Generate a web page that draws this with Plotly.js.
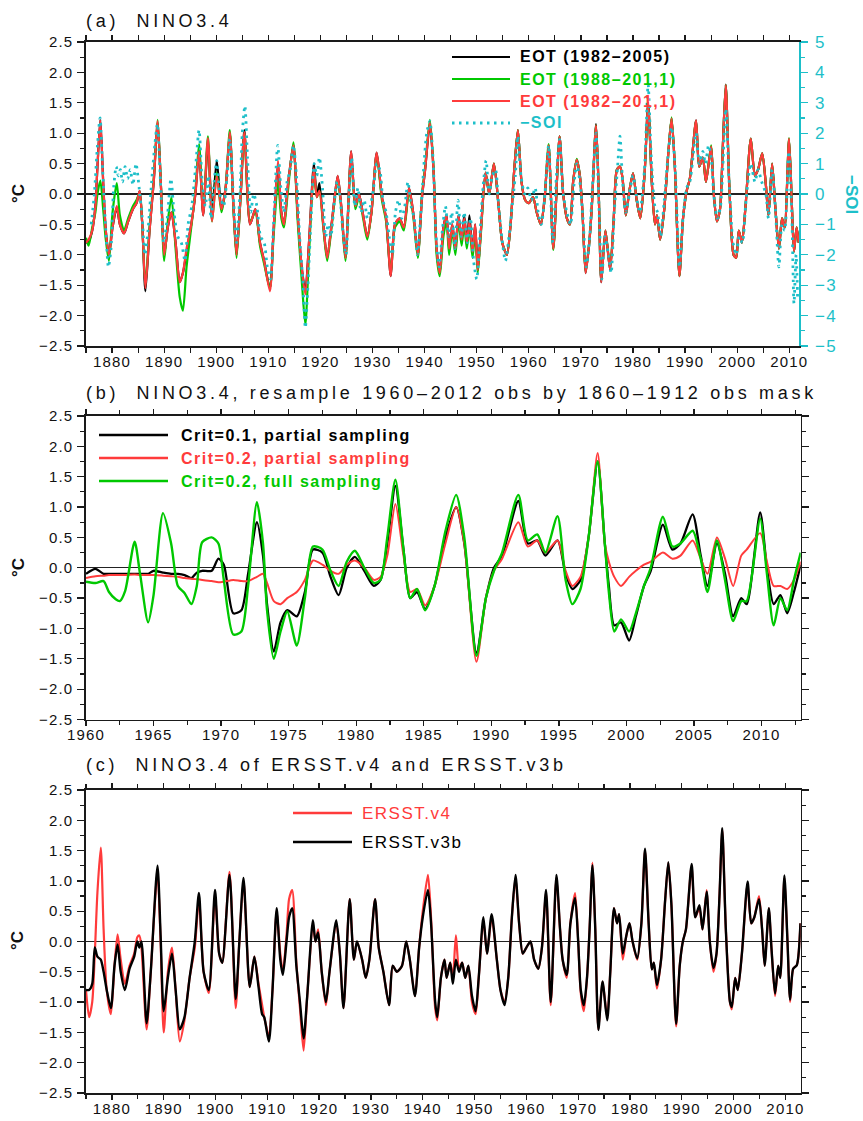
<!DOCTYPE html>
<html><head><meta charset="utf-8">
<script src="https://cdn.plot.ly/plotly-3.0.1.min.js"></script>
<style>
html,body{margin:0;padding:0;background:#fff;}
#chart{width:863px;height:1121px;}
.xtick text,.ytick text,.y2tick text,.x2tick text,.x3tick text,.y3tick text,.y4tick text{letter-spacing:1.2px;}
g.annotation[data-index="0"] text,g.annotation[data-index="1"] text,g.annotation[data-index="2"] text{letter-spacing:3.7px;}
g.annotation[data-index="5"] text,g.annotation[data-index="6"] text,g.annotation[data-index="7"] text,g.annotation[data-index="8"] text,
g.annotation[data-index="9"] text,g.annotation[data-index="10"] text,g.annotation[data-index="11"] text,
g.annotation[data-index="12"] text,g.annotation[data-index="13"] text{letter-spacing:1.5px;}
</style></head><body><div id="chart"></div>
<script>
// ---------------- Panel (a): EOT reconstructions of NINO3.4 and -SOI ----------------
const aYear = [
 1875.0,1875.5,1876.2,1876.8,1877.2,1877.75,1878.3,1878.8,1879.4,
 1880.1,1880.9,1881.5,1882.3,1883.1,1884.0,1884.7,1885.3,1885.8,1886.4,1887.2,1888.0,1888.75,1889.4,
 1890.0,1890.7,1891.4,1892.2,1893.0,1893.6,1894.3,1895.2,1896.0,1896.7,1897.5,1898.4,1899.2,
 1900.1,1901.0,1901.8,1902.6,1903.3,1903.9,1904.7,1905.4,1906.5,1907.5,1908.4,1909.2,
 1910.3,1911.0,1911.85,1912.5,1913.0,1913.7,1914.8,1915.6,1916.4,1917.1,1917.8,1918.75,1919.3,1919.8,
 1920.6,1921.3,1922.2,1923.3,1924.0,1924.8,1925.9,1926.7,1927.4,1928.2,1929.0,1929.8,
 1930.8,1931.8,1932.6,1933.5,1934.3,1935.2,1936.0,1937.0,1937.8,1938.7,1939.5,
 1940.1,1941.0,1941.7,1942.3,1942.9,1943.6,1944.2,1944.7,1945.3,1945.9,1946.5,1947.1,1947.6,1948.1,1948.6,1949.2,1949.7,
 1950.2,1950.8,1951.7,1952.4,1953.3,1954.2,1954.9,1955.8,1956.5,1957.2,1957.9,1958.6,1959.3,
 1960.0,1960.8,1961.5,1962.3,1963.0,1963.8,1964.7,1965.9,1966.6,1967.3,1967.9,1968.5,1969.2,1969.8,
 1970.3,1970.9,1971.6,1972.1,1972.9,1973.4,1973.9,1974.7,1975.6,1976.3,1976.9,1977.5,1978.0,1978.6,1979.3,
 1980.0,1980.7,1981.4,1982.2,1982.9,1983.6,1984.2,1984.6,1985.2,1986.0,1986.8,1987.4,1988.0,1988.9,1989.6,
 1990.3,1990.9,1992.1,1992.7,1993.4,1994.0,1995.0,1995.5,1996.1,1996.7,1997.2,1997.8,1998.5,1999.3,1999.8,
 2000.3,2000.9,2001.6,2002.6,2003.4,2004.0,2004.8,2005.5,2006.0,2006.7,2007.3,2008.0,2008.6,2009.1,2009.95,2010.5,2010.9,2011.4,2011.8
];
const aEOT8205 = [
 -0.80,-0.78,-0.60,-0.20,0.45,1.22,0.20,-0.60,-1.00,
 -0.55,-0.22,-0.50,-0.65,-0.45,-0.25,-0.15,0.05,-0.50,-1.60,-0.60,0.20,1.18,0.10,
 -1.00,-0.55,-0.30,-0.80,-1.45,-1.30,-0.95,-0.50,0.00,0.72,-0.35,0.85,-0.30,
 0.55,-0.25,0.10,1.00,-0.20,-1.00,0.00,1.05,-0.50,-0.25,-0.80,-1.10,
 -1.55,-0.60,0.50,-0.30,-0.50,0.10,0.80,-0.30,-1.20,-1.60,-0.80,0.50,-0.05,0.18,
 -0.55,-1.05,-0.45,0.30,-0.20,-1.05,0.70,-0.20,0.00,-0.35,-0.70,-0.30,
 0.68,-0.05,-0.40,-1.35,-0.50,-0.40,-0.55,0.10,-0.30,-1.00,-0.05,
 0.40,1.15,0.40,-0.90,-1.30,-0.55,-0.35,-0.90,-0.50,-0.90,-0.35,-0.75,-0.35,-0.80,-0.35,-0.95,-0.50,
 -1.25,-0.60,0.35,0.00,0.50,-0.20,-0.80,-1.00,-0.50,0.40,1.05,0.20,-0.10,
 -0.15,-0.05,-0.30,-0.50,-0.10,0.80,-0.90,0.95,0.00,-0.40,-0.50,0.20,0.56,0.30,
 -0.30,-1.30,-0.80,-0.20,1.15,0.10,-1.45,-0.60,-1.25,-0.40,0.40,0.45,0.25,-0.35,0.05,
 0.34,-0.10,-0.40,0.30,1.50,0.20,-0.50,-0.35,-0.75,-0.25,0.70,1.24,0.50,-1.35,-0.40,
 0.05,0.25,1.21,0.45,0.60,0.20,0.78,0.00,-0.45,-0.25,0.70,1.80,0.10,-1.00,-1.05,
 -0.60,-0.80,-0.20,0.91,0.30,0.40,0.67,0.15,-0.35,0.50,-0.20,-0.90,-0.40,-0.55,0.90,-0.20,-0.95,-0.55,-0.80
];
const aEOT8811 = [
 -0.72,-0.85,-0.55,-0.30,0.00,0.22,-0.25,-0.75,-1.10,
 -0.30,0.18,-0.35,-0.60,-0.40,-0.20,-0.10,0.02,-0.50,-1.50,-0.55,0.25,1.22,0.10,
 -1.10,-0.45,-0.05,-0.90,-1.70,-1.92,-1.20,-0.55,0.05,0.82,-0.30,0.95,-0.45,
 0.35,-0.30,0.10,1.05,-0.25,-1.05,0.00,1.00,-0.45,-0.30,-0.85,-1.15,
 -1.55,-0.70,0.20,-0.40,-0.55,0.00,0.85,-0.40,-1.40,-2.15,-1.00,0.40,-0.05,0.05,
 -0.60,-1.10,-0.50,0.25,-0.25,-1.10,0.65,-0.25,-0.05,-0.40,-0.75,-0.30,
 0.65,-0.10,-0.45,-1.30,-0.55,-0.45,-0.60,0.05,-0.35,-1.05,0.00,
 0.45,1.22,0.45,-1.00,-1.35,-0.70,-0.45,-1.00,-0.60,-1.00,-0.45,-0.85,-0.50,-0.90,-0.55,-1.05,-0.60,
 -1.30,-0.65,0.35,0.00,0.50,-0.20,-0.80,-1.00,-0.50,0.40,1.05,0.20,-0.10,
 -0.15,-0.05,-0.30,-0.50,-0.10,0.82,-0.92,0.95,0.00,-0.40,-0.50,0.20,0.58,0.30,
 -0.30,-1.28,-0.80,-0.20,1.13,0.10,-1.42,-0.60,-1.22,-0.40,0.40,0.45,0.25,-0.35,0.05,
 0.34,-0.10,-0.40,0.30,1.46,0.20,-0.50,-0.35,-0.75,-0.25,0.70,1.26,0.50,-1.35,-0.40,
 0.05,0.25,1.20,0.45,0.60,0.20,0.80,0.00,-0.45,-0.25,0.70,1.79,0.10,-1.00,-1.05,
 -0.60,-0.80,-0.20,0.91,0.30,0.40,0.67,0.15,-0.35,0.50,-0.20,-0.90,-0.40,-0.55,0.92,-0.20,-0.95,-0.55,-0.80
];
const aEOT8211 = [
 -0.80,-0.75,-0.60,-0.20,0.45,1.22,0.20,-0.60,-1.00,
 -0.55,-0.20,-0.50,-0.65,-0.45,-0.25,-0.15,0.05,-0.50,-1.55,-0.60,0.20,1.20,0.10,
 -1.00,-0.55,-0.30,-0.80,-1.45,-1.30,-0.90,-0.50,0.00,0.70,-0.35,0.92,-0.45,
 0.30,-0.25,0.10,1.02,-0.20,-1.00,0.00,1.02,-0.50,-0.25,-0.80,-1.10,
 -1.60,-0.60,0.55,-0.30,-0.50,0.10,0.80,-0.30,-1.20,-1.65,-0.80,0.42,-0.05,0.05,
 -0.55,-1.05,-0.45,0.30,-0.20,-1.05,0.70,-0.20,0.00,-0.35,-0.70,-0.30,
 0.68,-0.05,-0.40,-1.35,-0.50,-0.40,-0.55,0.10,-0.30,-1.00,-0.05,
 0.40,1.18,0.40,-0.90,-1.30,-0.55,-0.35,-0.90,-0.50,-0.90,-0.35,-0.75,-0.40,-0.80,-0.45,-0.95,-0.50,
 -1.25,-0.60,0.35,0.00,0.50,-0.20,-0.80,-1.00,-0.50,0.40,1.05,0.20,-0.10,
 -0.15,-0.05,-0.30,-0.50,-0.10,0.80,-0.90,0.95,0.00,-0.40,-0.50,0.20,0.56,0.30,
 -0.30,-1.30,-0.80,-0.20,1.13,0.10,-1.45,-0.60,-1.25,-0.40,0.40,0.45,0.25,-0.35,0.05,
 0.34,-0.10,-0.40,0.30,1.46,0.20,-0.50,-0.35,-0.75,-0.25,0.70,1.24,0.50,-1.35,-0.40,
 0.05,0.25,1.21,0.45,0.60,0.20,0.78,0.00,-0.45,-0.25,0.70,1.79,0.10,-1.00,-1.05,
 -0.60,-0.80,-0.20,0.91,0.30,0.40,0.67,0.15,-0.35,0.50,-0.20,-0.90,-0.40,-0.55,0.91,-0.20,-0.95,-0.55,-0.80
];
const soiYear = [
 1876.0,1876.6,1877.2,1877.7,1878.2,1878.8,1879.3,1879.8,
 1880.3,1880.8,1881.2,1881.6,1882.0,1882.5,1883.0,1883.5,1884.0,1884.6,1885.2,1885.8,1886.3,1886.9,1887.6,1888.2,1888.7,1889.3,1889.9,
 1890.6,1891.3,1891.9,1892.6,1893.3,1894.0,1894.6,1895.3,1896.0,1896.7,1897.3,1897.9,1898.5,1899.0,1899.6,
 1900.1,1900.7,1901.4,1902.1,1902.6,1903.2,1903.9,1904.6,1905.0,1905.5,1906.0,1906.6,1907.2,1907.8,1908.5,1909.2,1909.8,
 1910.4,1911.0,1911.8,1912.4,1913.0,1913.6,1914.2,1914.8,1915.4,1916.0,1916.6,1917.1,1917.6,1918.2,1918.8,1919.3,1919.8,
 1920.4,1921.0,1921.5,1922.0,1922.6,1923.2,1923.8,1924.4,1924.9,1925.5,1926.0,1926.6,1927.2,1927.8,1928.4,1929.0,1929.6,
 1930.2,1930.8,1931.4,1932.0,1932.6,1933.2,1933.8,1934.4,1935.0,1935.6,1936.2,1936.8,1937.4,1938.0,1938.6,1939.2,1939.8,
 1940.4,1941.0,1941.6,1942.2,1942.8,1943.4,1944.0,1944.6,1945.2,1945.8,1946.4,1947.0,1947.6,1948.2,1948.8,1949.4,
 1950.0,1950.6,1951.2,1951.8,1952.4,1953.0,1953.6,1954.2,1954.8,1955.5,1956.2,1956.8,1957.4,1957.9,1958.5,1959.2,1959.8,
 1960.5,1961.2,1961.8,1962.4,1963.0,1963.8,1964.6,1965.3,1965.9,1966.6,1967.3,1968.0,1968.6,1969.2,1969.8,
 1970.4,1971.0,1971.6,1972.2,1972.9,1973.5,1974.0,1974.6,1975.3,1975.8,1976.4,1977.0,1977.5,1978.0,1978.6,1979.3,
 1980.0,1980.6,1981.3,1982.2,1982.9,1983.5,1984.2,1984.7,1985.3,1986.0,1986.8,1987.4,1988.1,1988.9,1989.6,
 1990.3,1990.9,1992.1,1992.7,1993.4,1993.9,1994.5,1995.0,1995.6,1996.2,1996.8,1997.8,1998.5,1999.2,1999.8,
 2000.4,2001.0,2001.6,2002.6,2003.4,2004.0,2004.7,2005.5,2006.0,2006.7,2007.3,2008.0,2008.6,2009.1,2009.9,2010.5,2010.9,2011.3,2011.6
];
const negSOI = [
 -1.0,0.0,1.6,2.5,0.8,-1.2,-2.4,-1.8,
 0.2,0.9,0.6,0.8,0.4,0.9,0.5,0.8,0.3,1.0,0.2,-0.8,-2.0,-1.2,0.4,1.6,2.3,0.4,-1.6,
 -0.8,0.5,-0.6,-1.4,-1.6,-2.2,-1.0,-0.4,0.8,2.1,0.4,-0.4,0.6,-0.8,0.4,
 1.1,0.0,-0.4,0.6,1.8,0.2,-1.6,0.2,2.0,2.9,1.2,-0.6,0.0,-0.4,-1.4,-1.6,-2.4,
 -2.8,-1.0,1.6,0.2,-0.6,0.4,0.8,1.6,0.6,-1.4,-2.8,-4.4,-3.0,-0.8,1.0,0.6,1.2,
 0.2,-1.4,-1.0,-1.4,-0.4,0.4,-0.2,-1.4,-2.0,0.0,1.2,-0.4,0.2,-0.6,-0.2,-0.8,-0.4,
 0.2,1.0,0.8,-0.2,-0.6,-1.4,-2.0,-0.6,-0.2,-0.8,-0.4,0.4,-0.4,-0.8,-2.0,-0.8,0.8,
 2.0,2.4,1.2,-1.4,-2.4,-1.2,-0.4,-1.4,-0.6,-1.8,-0.2,-1.4,-0.6,-1.6,-0.8,-2.2,
 -2.8,-1.4,0.2,1.1,0.0,0.6,0.8,-0.4,-1.4,-2.2,-1.4,-0.4,0.6,1.9,0.6,0.0,0.2,
 -0.2,0.2,-0.6,-1.0,-0.2,1.6,-1.6,0.6,1.8,0.0,-0.6,-1.0,0.2,1.0,0.4,
 -0.8,-2.4,-1.6,0.2,2.0,-0.6,-2.8,-1.4,-2.0,-2.6,-0.6,0.8,1.9,0.4,-0.6,0.0,
 0.6,0.0,-0.6,0.8,3.6,1.2,-0.4,-0.6,-1.4,-0.2,1.4,2.2,0.8,-2.4,-0.8,
 0.2,0.4,2.0,1.0,1.4,1.0,1.6,1.2,-0.2,-0.8,-0.4,2.8,0.2,-1.6,-2.0,
 -1.4,-1.6,-0.4,1.0,0.4,0.8,0.4,0.0,-0.8,0.8,-0.4,-2.4,-1.0,-1.2,1.4,-0.8,-3.6,-2.0,-3.5
];

// ---------------- Panel (b): 1960-2012 resampled by 1860-1912 mask ----------------
const bYear = [
 1960.0,1960.7,1961.3,1961.7,1962.2,1962.5,1962.9,1963.6,1964.0,1964.6,1965.0,1965.7,1966.3,1966.8,1967.3,1967.8,1968.2,1968.6,1969.3,1969.8,
 1970.2,1970.9,1971.5,1972.0,1972.65,1973.1,1973.4,1973.9,1974.4,1974.9,1975.6,1976.2,1976.8,1977.5,1978.1,1978.7,1979.3,1979.9,
 1980.6,1981.3,1981.8,1982.3,1982.9,1983.5,1984.0,1984.5,1985.1,1985.8,1986.6,1987.4,1988.0,1988.9,1989.6,
 1990.2,1990.8,1992.0,1992.7,1993.4,1994.0,1994.9,1995.5,1996.0,1996.6,1997.2,1997.87,1998.4,1998.7,1999.1,1999.6,
 2000.2,2000.7,2001.3,2001.8,2002.7,2003.4,2004.0,2004.9,2005.5,2006.0,2006.7,2007.3,2007.9,2008.5,2008.9,2009.9,
 2010.4,2010.9,2011.4,2011.9,2012.4,2012.9
];
const bCrit01Partial = [
 -0.10,-0.02,-0.10,-0.10,-0.10,-0.10,-0.10,-0.10,-0.10,-0.10,-0.05,-0.08,-0.10,-0.10,-0.12,-0.17,-0.08,-0.05,-0.05,0.15,
 0.05,-0.75,-0.70,-0.10,0.75,0.20,-0.60,-1.38,-0.90,-0.70,-0.80,-0.40,0.30,0.25,-0.15,-0.45,0.00,0.18,
 -0.05,-0.30,-0.20,0.40,1.35,0.30,-0.50,-0.40,-0.68,-0.30,0.50,1.00,0.40,-1.40,-0.50,
 0.00,0.20,1.10,0.40,0.45,0.20,0.45,-0.10,-0.35,-0.20,0.50,1.75,0.40,-0.30,-0.95,-0.90,
 -1.20,-0.80,-0.30,-0.05,0.71,0.30,0.40,0.88,0.20,-0.30,0.40,-0.10,-0.80,-0.50,-0.60,0.91,
 0.00,-0.60,-0.45,-0.75,-0.40,0.05
];
const bCrit02Partial = [
 -0.17,-0.14,-0.13,-0.12,-0.12,-0.12,-0.12,-0.11,-0.12,-0.12,-0.12,-0.13,-0.14,-0.15,-0.17,-0.18,-0.19,-0.20,-0.22,-0.24,
 -0.23,-0.20,-0.22,-0.22,-0.15,-0.10,-0.25,-0.55,-0.60,-0.50,-0.40,-0.20,0.12,0.05,-0.05,-0.10,0.05,0.12,
 0.00,-0.20,-0.15,0.20,1.05,0.20,-0.40,-0.35,-0.62,-0.30,0.40,1.00,0.40,-1.55,-0.50,
 -0.05,0.15,0.75,0.35,0.45,0.25,0.45,-0.05,-0.30,-0.15,0.50,1.89,0.40,0.10,-0.15,-0.30,
 -0.15,-0.05,0.05,0.10,0.25,0.15,0.20,0.45,0.15,-0.10,0.50,0.15,-0.30,0.20,0.30,0.57,
 0.10,-0.30,-0.30,-0.35,-0.20,0.10
];
const bCrit02Full = [
 -0.23,-0.25,-0.22,-0.40,-0.52,-0.55,-0.38,0.43,-0.10,-0.90,-0.45,0.90,0.40,-0.30,-0.42,-0.60,-0.30,0.42,0.50,0.40,
 -0.20,-1.10,-1.05,-0.30,1.08,0.40,-0.70,-1.50,-1.05,-0.72,-1.28,-0.50,0.35,0.30,-0.05,-0.30,0.10,0.28,
 0.00,-0.25,-0.20,0.50,1.45,0.30,-0.50,-0.35,-0.70,-0.30,0.60,1.20,0.50,-1.45,-0.50,
 -0.05,0.25,1.20,0.45,0.55,0.25,0.85,-0.20,-0.60,-0.35,0.50,1.75,0.40,-0.40,-1.05,-0.85,
 -1.05,-0.75,-0.30,0.00,0.84,0.35,0.40,0.61,0.15,-0.40,0.45,-0.20,-0.88,-0.55,-0.55,0.81,
 -0.10,-0.95,-0.50,-0.70,-0.20,0.25
];

// ---------------- Panel (c): ERSST.v4 vs ERSST.v3b ----------------
const cYear = [
 1875.0,1875.6,1876.2,1876.7,1877.2,1877.85,1878.4,1879.0,1879.8,
 1880.5,1881.1,1881.7,1882.5,1883.4,1884.3,1884.9,1885.3,1885.7,1886.7,1887.5,1888.8,1889.4,
 1890.0,1890.8,1891.6,1892.3,1893.1,1894.0,1895.0,1896.0,1896.8,1897.7,1898.7,1899.9,
 1900.7,1901.3,1902.7,1903.9,1904.6,1905.4,1906.6,1907.5,1908.3,1909.0,1909.4,
 1910.3,1911.0,1911.8,1912.5,1913.0,1913.7,1914.2,1914.8,1915.6,1916.3,1917.0,1917.7,1918.8,1919.3,1919.8,
 1920.5,1921.3,1922.0,1923.3,1924.0,1924.7,1925.9,1926.7,1927.3,1928.3,1929.0,1929.7,
 1930.8,1931.5,1932.4,1933.5,1934.2,1935.0,1936.0,1936.8,1937.5,1938.5,1939.3,
 1940.0,1941.0,1941.6,1942.4,1942.8,1943.5,1944.2,1944.6,1945.3,1945.8,1946.4,1947.0,1947.6,1948.2,1948.8,1949.5,
 1950.2,1950.8,1951.7,1952.4,1953.3,1954.3,1955.0,1955.8,1956.5,1957.2,1957.9,1958.6,1959.3,
 1960.0,1960.8,1961.5,1962.3,1963.0,1963.8,1964.7,1965.8,1966.5,1967.0,1967.8,1968.5,1969.4,
 1970.0,1970.5,1971.1,1971.7,1972.2,1972.75,1973.3,1973.9,1974.7,1975.6,1976.2,1976.9,1977.5,1977.9,1978.6,1979.3,1979.9,
 1980.5,1981.4,1982.2,1982.9,1983.6,1984.2,1984.6,1985.2,1986.0,1986.8,1987.4,1988.0,1988.9,1989.6,
 1990.2,1990.8,1991.9,1992.6,1993.4,1994.0,1994.8,1995.4,1996.1,1996.7,1997.3,1997.8,1998.5,1999.3,1999.65,
 2000.3,2000.8,2001.6,2002.7,2003.4,2004.0,2004.9,2005.5,2006.0,2006.8,2007.3,2008.0,2008.6,2009.0,2009.8,
 2010.4,2010.9,2011.5,2012.2,2012.9
];
const cERSSTv4 = [
 -0.80,-1.25,-1.00,-0.20,0.80,1.55,0.20,-0.80,-1.20,
 -0.40,0.12,-0.30,-0.70,-0.40,-0.20,0.07,0.10,-0.10,-1.45,-0.50,1.15,0.00,
 -1.50,-0.50,-0.10,-0.80,-1.65,-1.30,-0.60,-0.10,0.70,-0.50,-0.85,0.75,
 -0.20,-0.35,1.15,-1.10,0.00,1.00,-0.75,-0.25,-0.70,-1.05,-1.25,
 -1.55,-0.80,0.50,-0.20,-0.50,0.10,0.70,0.85,-0.35,-1.10,-1.80,-0.90,0.25,0.00,0.20,
 -0.50,-1.05,-0.50,0.30,-0.20,-1.10,0.70,-0.30,0.00,-0.30,-0.60,-0.30,
 0.70,-0.10,-0.50,-1.05,-0.40,-0.50,-0.40,0.00,-0.30,-0.90,-0.10,
 0.50,1.10,0.40,-1.10,-1.30,-0.60,-0.30,-0.60,-0.35,-0.60,0.10,-0.45,-0.35,-0.60,-0.40,-1.00,
 -1.20,-0.60,0.35,-0.20,0.40,-0.30,-0.80,-1.00,-0.60,0.40,1.05,0.30,-0.20,
 -0.10,0.00,-0.30,-0.45,-0.10,0.80,-1.05,1.05,0.20,-0.30,-0.60,0.30,0.80,
 0.00,-0.85,-1.15,-0.60,0.20,1.30,0.20,-1.45,-0.66,-1.25,-0.50,0.55,0.30,0.45,-0.30,0.10,0.30,
 0.00,-0.30,0.30,1.50,0.30,-0.46,-0.35,-0.78,-0.30,0.70,1.30,0.60,-1.40,-0.40,
 0.00,0.20,1.25,0.40,0.55,0.20,0.85,0.00,-0.50,-0.20,0.80,1.85,0.20,-1.00,-1.12,
 -0.60,-0.80,-0.20,0.95,0.30,0.40,0.75,0.20,-0.40,0.55,-0.10,-0.90,-0.40,-0.60,1.05,
 0.00,-1.00,-0.45,-0.39,0.30
];
const cERSSTv3b = [
 -0.80,-0.80,-0.70,-0.10,-0.25,-0.30,-0.50,-0.80,-1.10,
 -0.40,-0.05,-0.50,-0.80,-0.45,-0.25,0.00,-0.10,0.00,-1.35,-0.50,1.25,0.10,
 -1.15,-0.60,-0.20,-0.80,-1.45,-1.25,-0.60,0.00,0.80,-0.50,-0.80,0.85,
 -0.20,-0.35,1.10,-0.95,0.00,1.05,-0.75,-0.25,-0.75,-1.20,-1.25,
 -1.65,-0.80,0.55,-0.30,-0.55,0.00,0.40,0.55,-0.40,-1.00,-1.60,-0.90,0.35,0.00,0.15,
 -0.50,-1.00,-0.50,0.35,-0.20,-1.10,0.70,-0.30,0.00,-0.30,-0.60,-0.30,
 0.70,-0.10,-0.50,-1.05,-0.40,-0.50,-0.40,0.00,-0.30,-0.90,-0.10,
 0.40,0.85,0.30,-1.00,-1.25,-0.60,-0.30,-0.60,-0.35,-0.70,-0.30,-0.50,-0.35,-0.60,-0.40,-0.90,
 -1.15,-0.60,0.40,-0.20,0.45,-0.30,-0.80,-1.05,-0.60,0.40,1.10,0.30,-0.20,
 -0.10,0.00,-0.30,-0.45,-0.10,0.85,-1.00,1.10,0.20,-0.30,-0.55,0.30,0.72,
 0.00,-0.80,-1.05,-0.60,0.20,1.26,0.20,-1.46,-0.66,-1.30,-0.50,0.55,0.30,0.45,-0.20,0.10,0.30,
 0.00,-0.28,0.30,1.53,0.30,-0.46,-0.35,-0.72,-0.30,0.70,1.31,0.60,-1.36,-0.40,
 0.00,0.20,1.28,0.40,0.60,0.20,0.82,0.00,-0.44,-0.20,0.80,1.87,0.20,-1.00,-1.08,
 -0.60,-0.80,-0.20,0.99,0.30,0.40,0.70,0.20,-0.40,0.55,-0.10,-0.86,-0.40,-0.60,1.09,
 0.00,-0.96,-0.45,-0.39,0.30
];

// Tick settings (labels are generated by the axes)
const yTickStep = 0.5, soiTickStep = 1;

// ---------------- styling ----------------
const W = 863, H = 1121;
const px = v => v / W, py = v => 1 - v / H;
const RED = '#FF3B3B', GREEN = '#00C800', CYAN = '#1DBFC9', BLACK = '#000000', AX = '#1a1a1a';
const FONT = '"Liberation Sans", Arial, Helvetica, sans-serif';

function xAxis(x0, x1, range, dtick, tick0, minor, anchor) {
  return {domain:[px(x0), px(x1)], range:range, anchor:anchor, tickmode:'linear', tick0:tick0, dtick:dtick,
    ticks:'outside', ticklen:5, tickwidth:1.3, tickcolor:AX, showline:true, linecolor:AX, linewidth:1.6,
    mirror:'allticks', showgrid:false, zeroline:false, fixedrange:true,
    minor:{dtick:minor, ticks:'outside', ticklen:4, tickwidth:1.2, tickcolor:AX, showgrid:false},
    tickfont:{family:FONT, size:15, color:'#111'}, ticklabelstandoff:-4};
}
function yAxis(y0, y1, anchor, mirror) {
  return {domain:[py(y1), py(y0)], range:[-2.5, 2.5], anchor:anchor, tickmode:'linear', tick0:-2.5, dtick:yTickStep,
    tickformat:'.1f', ticks:'outside', ticklen:7, tickwidth:1.3, tickcolor:AX, showline:true, linecolor:AX, linewidth:1.6,
    mirror:mirror, showgrid:false, zeroline:true, zerolinecolor:'#222', zerolinewidth:1.3, fixedrange:true,
    minor:{dtick:0.25, ticks:'outside', ticklen:4, tickwidth:1.2, tickcolor:AX, showgrid:false},
    tickfont:{family:FONT, size:15, color:'#111'}, ticklabelstandoff:1};
}

const sp = {shape:'spline', smoothing:0.7};
const traces = [
  {x:aYear, y:aEOT8205, xaxis:'x', yaxis:'y', mode:'lines', line:Object.assign({color:BLACK, width:2.2}, sp), name:'EOT (1982–2005)'},
  {x:aYear, y:aEOT8811, xaxis:'x', yaxis:'y', mode:'lines', line:Object.assign({color:GREEN, width:2.2}, sp), name:'EOT (1988–2011)'},
  {x:aYear, y:aEOT8211, xaxis:'x', yaxis:'y', mode:'lines', line:Object.assign({color:RED, width:2.2}, sp), name:'EOT (1982–2011)'},
  {x:soiYear, y:negSOI, xaxis:'x', yaxis:'y2', mode:'lines', line:Object.assign({color:CYAN, width:2.8, dash:'2.5px,4.5px'}, sp), name:'−SOI'},

  {x:bYear, y:bCrit01Partial, xaxis:'x2', yaxis:'y3', mode:'lines', line:Object.assign({color:BLACK, width:2.3}, sp), name:'Crit=0.1, partial sampling'},
  {x:bYear, y:bCrit02Partial, xaxis:'x2', yaxis:'y3', mode:'lines', line:Object.assign({color:RED, width:2.0}, sp), name:'Crit=0.2, partial sampling'},
  {x:bYear, y:bCrit02Full, xaxis:'x2', yaxis:'y3', mode:'lines', line:Object.assign({color:GREEN, width:2.4}, sp), name:'Crit=0.2, full sampling'},

  {x:cYear, y:cERSSTv4, xaxis:'x3', yaxis:'y4', mode:'lines', line:Object.assign({color:RED, width:2.2}, sp), name:'ERSST.v4'},
  {x:cYear, y:cERSSTv3b, xaxis:'x3', yaxis:'y4', mode:'lines', line:Object.assign({color:BLACK, width:2.4}, sp), name:'ERSST.v3b'}
];

// legend entries drawn in paper space
const legA = [
  {t:'<b>EOT (1982–2005)</b>', c:BLACK, y:57, dash:'solid'},
  {t:'<b>EOT (1988–201,1)</b>', c:GREEN, y:79, dash:'solid'},
  {t:'<b>EOT (1982–201,1)</b>', c:RED, y:101, dash:'solid'},
  {t:'<b>−SOI</b>', c:CYAN, y:123, dash:'2.5px,4.5px'}
];
const legB = [
  {t:'<b>Crit=0.1, partial sampling</b>', c:BLACK, y:435},
  {t:'<b>Crit=0.2, partial sampling</b>', c:RED, y:458},
  {t:'<b>Crit=0.2, full sampling</b>', c:GREEN, y:481}
];
const legC = [
  {t:'ERSST.v4', c:RED, y:813},
  {t:'ERSST.v3b', c:BLACK, y:842}
];

const ann = [];
const shapes = [];
function txt(text, x, y, size, color, extra) {
  ann.push(Object.assign({text:text, xref:'paper', yref:'paper', x:px(x), y:py(y), xanchor:'left', yanchor:'middle',
    align:'left', showarrow:false, font:{family:FONT, size:size, color:color}}, extra || {}));
}
txt('(a)  NINO3.4', 84, 21, 18, '#111');
txt('(b)  NINO3.4, resample 1960–2012 obs by 1860–1912 obs mask', 84, 393, 18, '#111');
txt('(c)  NINO3.4 of ERSST.v4 and ERSST.v3b', 84, 765, 18, '#111');
txt('<b>°C</b>', 18, 194, 17, '#111', {xanchor:'center', align:'center', textangle:-90});
txt('<b>°C</b>', 18, 568, 17, '#111', {xanchor:'center', align:'center', textangle:-90});
// indices 5.. : legends
legA.forEach(e => {
  txt(e.t, 518, e.y, 16, e.c);
  shapes.push({type:'line', xref:'paper', yref:'paper', x0:px(452), x1:px(510), y0:py(e.y), y1:py(e.y),
    line:{color:e.c, width:e.dash === 'solid' ? 2.2 : 2.8, dash:e.dash}});
});
legB.forEach(e => {
  txt(e.t, 179, e.y, 16, e.c);
  shapes.push({type:'line', xref:'paper', yref:'paper', x0:px(99), x1:px(168), y0:py(e.y), y1:py(e.y),
    line:{color:e.c, width:2.3}});
});
legC.forEach(e => {
  txt(e.t, 360, e.y, 17, e.c);
  shapes.push({type:'line', xref:'paper', yref:'paper', x0:px(293), x1:px(352), y0:py(e.y), y1:py(e.y),
    line:{color:e.c, width:2.3}});
});
txt('<b>°C</b>', 18, 941, 17, '#111', {xanchor:'center', align:'center', textangle:-90});
txt('<b>−SOI</b>', 852, 194, 17, CYAN, {xanchor:'center', align:'center', textangle:90});

const layout = {
  width:W, height:H, margin:{l:0, r:0, t:0, b:0}, paper_bgcolor:'#fff', plot_bgcolor:'#fff',
  showlegend:false, font:{family:FONT, color:'#111'},
  xaxis: xAxis(86, 799, [1875, 2011.86], 10, 1880, 5, 'y'),
  yaxis: yAxis(42, 346, 'x', false),
  yaxis2: {overlaying:'y', side:'right', anchor:'x', range:[-5, 5], tickmode:'linear', tick0:-5, dtick:soiTickStep,
    ticks:'outside', ticklen:7, tickwidth:1.3, tickcolor:CYAN, showline:true, linecolor:CYAN, linewidth:1.6,
    showgrid:false, zeroline:false, fixedrange:true,
    minor:{dtick:0.5, ticks:'outside', ticklen:4, tickwidth:1.2, tickcolor:CYAN, showgrid:false},
    tickfont:{family:FONT, size:17, color:CYAN}, ticklabelstandoff:4},
  xaxis2: xAxis(86, 800.7, [1960, 2012.9], 5, 1960, 2.5, 'y3'),
  yaxis3: yAxis(416, 719.5, 'x2', 'allticks'),
  xaxis3: xAxis(86, 800.7, [1875, 2012.95], 10, 1880, 5, 'y4'),
  yaxis4: yAxis(790, 1093, 'x3', 'allticks'),
  annotations: ann, shapes: shapes
};
Plotly.newPlot('chart', traces, layout, {staticPlot:true, displayModeBar:false});
</script></body></html>
